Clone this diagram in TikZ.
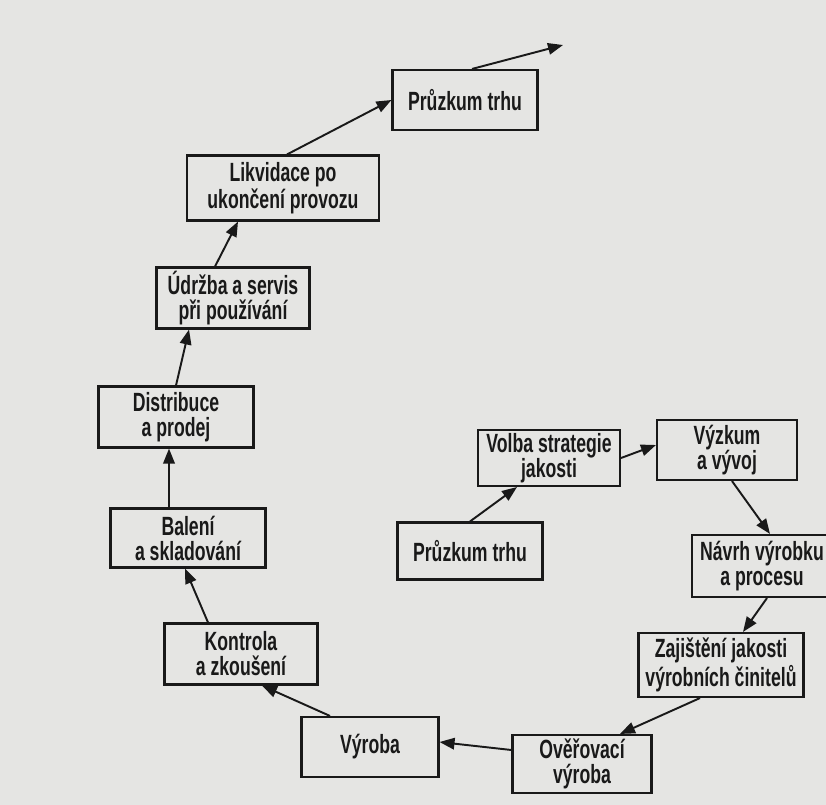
\documentclass[tikz,border=0pt]{standalone}
\usepackage{fontspec}
\setmainfont{Liberation Sans}[FakeStretch=0.67]
\usetikzlibrary{arrows.meta}
\definecolor{paper}{RGB}{229,229,227}
\definecolor{ink}{RGB}{25,25,25}
\tikzset{
  box/.style={draw=ink,line width=1.2pt,align=center,inner sep=1pt,text=ink,
    font=\bfseries\fontsize{15}{14.2}\selectfont},
  flow/.style={draw=ink,line width=1.1pt,-{Triangle[length=3mm,width=2.3mm]}}
}
\begin{document}
\begin{tikzpicture}[x=0.02cm,y=-0.02cm]
    \fill[paper] (0,0) rectangle (826,805);
    \useasboundingbox (0,0) rectangle (826,805);
    \node[box,minimum width=2.9cm,minimum height=1.2cm] (prA) at (465,100) {Průzkum trhu};
    \node[box,minimum width=3.84cm,minimum height=1.3cm] (likv) at (283,188) {Likvidace po\\ukončení provozu};
    \node[box,minimum width=3.06cm,minimum height=1.22cm] (udr) at (233,298) {Údržba a servis\\při používání};
    \node[box,minimum width=3.1cm,minimum height=1.22cm] (dist) at (176,417) {Distribuce\\a prodej};
    \node[box,minimum width=3.1cm,minimum height=1.18cm] (bal) at (188,538) {Balení\\a skladování};
    \node[box,minimum width=3.06cm,minimum height=1.22cm] (kon) at (241,654) {Kontrola\\a zkoušení};
    \node[box,minimum width=2.74cm,minimum height=1.2cm] (vyr) at (370,747) {Výroba};
    \node[box,minimum width=2.78cm,minimum height=1.16cm] (over) at (582,764) {Ověřovací\\výroba};
    \node[box,minimum width=3.3cm,minimum height=1.28cm] (zaj) at (721,665) {Zajištění jakosti\\výrobních činitelů};
    \node[box,minimum width=2.8cm,minimum height=1.24cm] (navrh) at (762,566) {Návrh výrobku\\a procesu};
    \node[box,minimum width=2.8cm,minimum height=1.2cm] (vyzk) at (727,450) {Výzkum\\a vývoj};
    \node[box,minimum width=2.84cm,minimum height=1.12cm] (volba) at (549,458) {Volba strategie\\jakosti};
    \node[box,minimum width=2.9cm,minimum height=1.14cm] (prB) at (470,551) {Průzkum trhu};
    \coordinate (dal) at (563,45);
    \draw[flow] (prB.north) -- ([xshift=-0.64cm]volba.south);
    \draw[flow] (volba.east) -- ([yshift=0.1cm]vyzk.west);
    \draw[flow] ([xshift=0.1cm]vyzk.south) -- ([xshift=0.16cm]navrh.north);
    \draw[flow] ([xshift=0.1cm]navrh.south) -- ([xshift=0.44cm]zaj.north);
    \draw[flow] ([xshift=-0.42cm]zaj.south) -- ([xshift=0.76cm]over.north);
    \draw[flow] ([yshift=0.28cm]over.west) -- ([yshift=0.1cm]vyr.east);
    \draw[flow] ([xshift=-0.8cm]vyr.north) -- ([xshift=0.42cm]kon.south);
    \draw[flow] ([xshift=-0.66cm]kon.north) -- ([xshift=-0.06cm]bal.south);
    \draw[flow] ([xshift=-0.38cm]bal.north) -- ([xshift=-0.14cm]dist.south);
    \draw[flow] (dist.north) -- ([xshift=-0.88cm]udr.south);
    \draw[flow] ([xshift=-0.36cm]udr.north) -- ([xshift=-0.9cm]likv.south);
    \draw[flow] ([xshift=0.08cm]likv.north) -- (prA.west);
    \draw[flow] ([xshift=0.14cm]prA.north) -- (dal);
\end{tikzpicture}
\end{document}
